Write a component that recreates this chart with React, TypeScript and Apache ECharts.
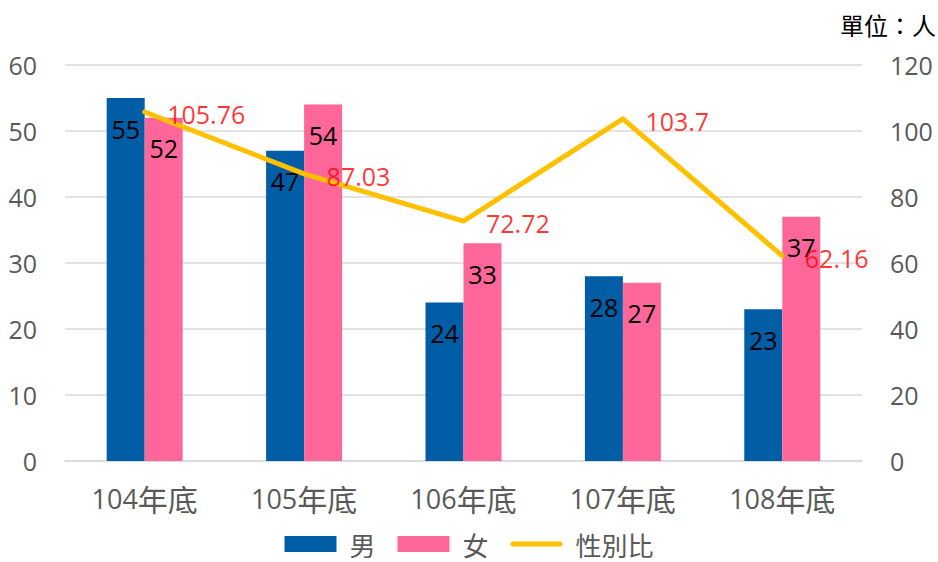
import React, { useEffect, useRef } from "react";
import * as echarts from "echarts";

const categories = ["104年底", "105年底", "106年底", "107年底", "108年底"];
const maleValues = [55, 47, 24, 28, 23];
const femaleValues = [52, 54, 33, 27, 37];
const ratioValues = [105.76, 87.03, 72.72, 103.7, 62.16];
const leftTicks = [0, 10, 20, 30, 40, 50, 60];
const rightTicks = [0, 20, 40, 60, 80, 100, 120];

const numFont = "'Open Sans', 'Noto Sans', sans-serif";
const cjkFont = "'Noto Sans CJK TC', 'Noto Sans', sans-serif";

const lineIcon =
  "path://M0,0L0.01,0L0,0.01Z M52,16L51.99,16L52,15.99Z M2.5,5.5L49.5,5.5A2.5,2.5 0 0 1 49.5,10.5L2.5,10.5A2.5,2.5 0 0 1 2.5,5.5Z";

export default function App() {
  const ref = useRef<HTMLDivElement>(null);
  useEffect(() => {
    if (!ref.current) return;
    const chart = echarts.init(ref.current, undefined, { renderer: "svg" });
    const barLabel = {
      show: true,
      position: "insideTop",
      distance: 18,
      color: "#000000",
      fontSize: 25,
      fontFamily: numFont,
    };
    chart.setOption({
      animation: false,
      backgroundColor: "#ffffff",
      grid: { left: 65, right: 76, top: 65, bottom: 101, containLabel: false },
      graphic: [
        {
          type: "text",
          right: 2,
          top: 12,
          style: { text: "單位：人", font: `24px ${cjkFont}`, fill: "#000000" },
        },
      ],
      legend: {
        bottom: 0,
        left: "center",
        itemWidth: 52,
        itemHeight: 16,
        itemGap: 22,
        textStyle: {
          fontFamily: cjkFont,
          fontSize: 26,
          color: "#595959",
          padding: [0, 0, 0, 8],
        },
        data: [
          { name: "男", icon: "rect" },
          { name: "女", icon: "rect" },
          { name: "性別比", icon: lineIcon, itemStyle: { color: "#FFC000" } },
        ],
      },
      xAxis: {
        type: "category",
        data: categories,
        axisTick: { show: false },
        axisLine: { lineStyle: { color: "#d9d9d9", width: 1.5 } },
        axisLabel: {
          margin: 22,
          formatter: (v: string) => {
            const m = v.match(/^(\d+)(.*)$/);
            return m ? `{n|${m[1]}}{c|${m[2]}}` : v;
          },
          rich: {
            n: { color: "#595959", fontSize: 27, fontFamily: numFont },
            c: { color: "#595959", fontSize: 30, fontFamily: cjkFont },
          },
        },
      },
      yAxis: [
        {
          type: "value",
          min: leftTicks[0],
          max: leftTicks[leftTicks.length - 1],
          interval: 10,
          axisLine: { show: false },
          axisTick: { show: false },
          splitLine: { lineStyle: { color: "#d9d9d9", width: 1.5 } },
          axisLabel: { color: "#595959", fontSize: 25, fontFamily: numFont, margin: 28 },
        },
        {
          type: "value",
          min: rightTicks[0],
          max: rightTicks[rightTicks.length - 1],
          interval: 20,
          axisLine: { show: false },
          axisTick: { show: false },
          splitLine: { show: false },
          axisLabel: { color: "#595959", fontSize: 25, fontFamily: numFont, margin: 28 },
        },
      ],
      series: [
        {
          name: "男",
          type: "bar",
          data: maleValues,
          barWidth: 38,
          barGap: "0%",
          itemStyle: { color: "#005DA6" },
          label: barLabel,
        },
        {
          name: "女",
          type: "bar",
          data: femaleValues,
          barWidth: 38,
          barGap: "0%",
          itemStyle: { color: "#FF6699" },
          label: barLabel,
        },
        {
          name: "性別比",
          type: "line",
          yAxisIndex: 1,
          data: ratioValues,
          symbol: "none",
          lineStyle: { color: "#FFC000", width: 5, cap: "round", join: "round" },
          itemStyle: { color: "#FFC000" },
          z: 3,
        },
        {
          name: "性別比標籤",
          type: "scatter",
          yAxisIndex: 1,
          data: ratioValues,
          symbolSize: 1,
          itemStyle: { color: "rgba(0,0,0,0)" },
          silent: true,
          z: 4,
          label: {
            show: true,
            position: "right",
            distance: 22,
            offset: [0, 2],
            color: "#FF0000",
            fontSize: 25,
            fontFamily: numFont,
          },
        },
      ],
    });
    return () => chart.dispose();
  }, []);
  return (
    <div
      ref={ref}
      style={{ position: "absolute", left: 0, top: 0, width: 938, height: 562 }}
    />
  );
}
